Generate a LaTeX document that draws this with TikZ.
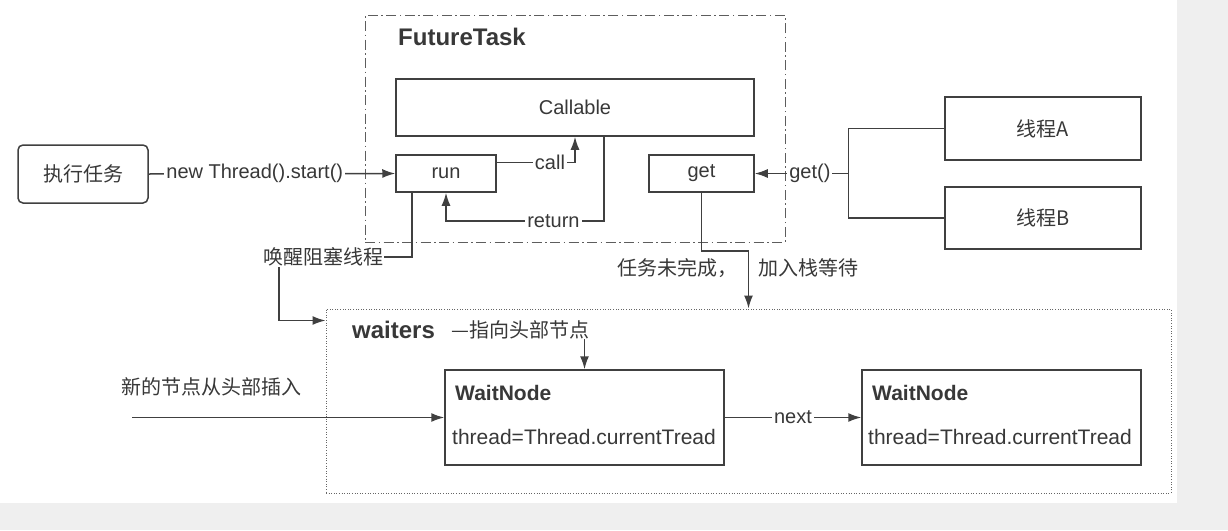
\documentclass[tikz,border=0pt]{standalone}
\usepackage{fontspec}
\setmainfont{Liberation Sans}
\newfontfamily\cjk{Noto Sans CJK SC}
\usetikzlibrary{arrows.meta,calc}
\definecolor{ink}{HTML}{404040}
\definecolor{txt}{HTML}{383838}
\definecolor{bggray}{HTML}{EFEFEF}
\begin{document}
\begin{tikzpicture}[x=1pt,y=-1pt,
  box/.style={draw=ink, line width=1.5pt, text=txt, font=\fontsize{20}{24}\selectfont, inner sep=0pt},
  frameA/.style={draw=ink!85, line width=0.9pt, dash pattern=on 10pt off 3.5pt on 1.5pt off 3.5pt},
  frameB/.style={draw=ink!80, line width=1pt, dash pattern=on 1pt off 1.6pt},
  arr/.style={draw=ink, line width=1.5pt, -{Latex[length=13pt,width=9pt]}},
  ln/.style={draw=ink, line width=1.5pt},
  lbl/.style={fill=white, text=txt, font=\fontsize{20}{24}\selectfont, inner sep=2pt},
  ttl/.style={text=txt, font=\fontsize{24}{28}\selectfont\bfseries, inner sep=0pt, anchor=west},
  cj/.style={text=txt, font=\fontsize{20}{24}\selectfont\cjk, inner sep=1pt},
  wtxt/.style={text=txt, font=\fontsize{21}{25}\selectfont, inner sep=0pt, anchor=west}
]
\useasboundingbox (0,0) rectangle (1228,530);
\fill[bggray] (0,0) rectangle (1228,530);
\fill[white] (0,0) rectangle (1177,503);

% frames
\node[frameA, minimum width=420pt, minimum height=227pt, inner sep=0pt] (ft) at (575,128.5) {};
\node[frameB, minimum width=845pt, minimum height=184pt, inner sep=0pt] (wf) at (748.5,401) {};
\node[ttl] (fttitle) at (398,37) {FutureTask};
\node[ttl] (wtitle) at (352,330) {waiters};
\node[cj, anchor=west, inner sep=0pt] (headtxt) at (451,330) {—指向头部节点};

% boxes
\node[box, rounded corners=5pt, minimum width=130pt, minimum height=58pt] (exec) at (83,174) {\cjk 执行任务};
\node[box, minimum width=358pt, minimum height=57pt] (callable) at (575,107.5) {Callable};
\node[box, minimum width=100pt, minimum height=37pt] (run) at (446,173.5) {run};
\node[box, minimum width=105pt, minimum height=37pt] (get) at (701.5,173.5) {get};
\node[box, minimum width=196pt, minimum height=63pt] (tA) at (1043,128.5) {\cjk 线程A};
\node[box, minimum width=196pt, minimum height=62pt] (tB) at (1043,218) {\cjk 线程B};
\node[box, minimum width=279pt, minimum height=95pt] (wn1) at (584.5,417.5) {};
\node[box, minimum width=279pt, minimum height=95pt] (wn2) at (1001.5,417.5) {};
\node[wtxt, font=\fontsize{21}{25}\selectfont\bfseries] (wn1a) at (455,393) {WaitNode};
\node[wtxt] (wn1b) at (452,437) {thread=Thread.currentTread};
\node[wtxt, font=\fontsize{21}{25}\selectfont\bfseries] (wn2a) at (872,393) {WaitNode};
\node[wtxt] (wn2b) at (868,437) {thread=Thread.currentTread};

% free labels
\node[cj] (wake) at (323,257) {唤醒阻塞线程};
\node[cj, anchor=east] (unf) at (739,268) {任务未完成，};
\node[cj, anchor=west] (join) at (757,268) {加入栈等待};
\node[cj] (ins) at (211,387) {新的节点从头部插入};

% connectors
\draw[arr] (exec.east) -- node[lbl, pos=0.43]{new Thread().start()} (run.west);
\draw[arr] ([yshift=-8pt]run.north east) -| node[lbl, pos=0.34]{call} (callable.south);
\draw[arr] ([xshift=29pt]callable.south) -- ++(0,84) coordinate (r1) -| node[lbl, pos=0.16]{return} (run.south);
\draw[ln] ([xshift=-34pt]run.south) |- (wake.east);
\draw[arr] ([xshift=-44pt]wake.south) |- ([yshift=-12pt]wf.north west);
\draw[arr] (get.south) -- ++(0,58) -| (wf.north);
\draw[ln] (tA.west) -- ++(-96,0) coordinate (ja) -- (ja |- tB.west) -- (tB.west);
\coordinate (jm) at (ja |- get.east);
\draw[arr] (jm) -- node[lbl, pos=0.41]{get()} (get.east);
\draw[arr] (headtxt.south -| wn1.north) -- (wn1.north);
\coordinate (insS) at (132,417.5);
\draw[arr] (insS) -- (wn1.west);
\draw[arr] (wn1.east) -- node[lbl]{next} (wn2.west);
\end{tikzpicture}
\end{document}
